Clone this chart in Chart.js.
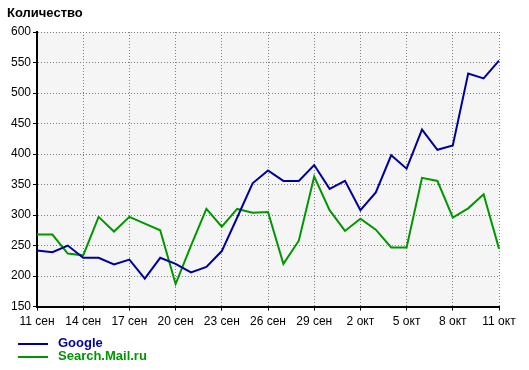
<!DOCTYPE html>
<html>
<head>
<meta charset="utf-8">
<script src="https://cdn.jsdelivr.net/npm/chart.js@4.4.1/dist/chart.umd.min.js"></script>
<style>
  html, body { margin: 0; padding: 0; background: #fff; }
  #wrap { position: relative; width: 529px; height: 370px; }
  #title { position: absolute; left: 7px; top: 5px; font: bold 13px "Liberation Sans", Arial, sans-serif; color: #000; }
  .leg { position: absolute; left: 18px; font: bold 13px "Liberation Sans", Arial, sans-serif; }
  .leg i { position: absolute; left: 0; width: 30px; height: 2px; }
  .leg span { position: absolute; left: 40px; top: -8px; white-space: nowrap; }
</style>
</head>
<body>
<div id="wrap">
  <canvas id="c" width="529" height="370"></canvas>
  <div id="title">Количество</div>
  <div class="leg" style="top:343px"><i style="background:#00009c"></i><span style="color:#00009c">Google</span></div>
  <div class="leg" style="top:356px"><i style="background:#009600"></i><span style="color:#009600">Search.Mail.ru</span></div>
</div>
<script>
// дни периода
var days = ['11 сен', '12 сен', '13 сен', '14 сен', '15 сен', '16 сен', '17 сен', '18 сен',
    '19 сен', '20 сен', '21 сен', '22 сен', '23 сен', '24 сен', '25 сен', '26 сен',
    '27 сен', '28 сен', '29 сен', '30 сен', '1 окт', '2 окт', '3 окт', '4 окт',
    '5 окт', '6 окт', '7 окт', '8 окт', '9 окт', '10 окт', '11 окт'];

var googleValues = [242, 239, 250, 230, 230, 219, 227, 196, 230, 220, 206, 215, 241, 296, 352,
    373, 356, 356, 382, 343, 356, 308, 337, 398, 376, 440, 407, 414, 532, 524, 553];

var mailValues = [268, 268, 237, 234, 297, 273, 297, 286, 275, 187, 250, 310, 281, 310, 304,
    305, 220, 258, 363, 308, 274, 294, 276, 247, 247, 361, 356, 296, 311, 334, 245];

var yMin = 150, yMax = 600, yStep = 50;

var FONT = { family: '"Liberation Sans", Arial, sans-serif', size: 12 };

// серый фон области графика
var plotBg = {
    id: 'plotBg',
    beforeDraw: function (chart) {
        var a = chart.chartArea, ctx = chart.ctx;
        ctx.save();
        ctx.fillStyle = '#f5f5f5';
        ctx.fillRect(a.left, a.top, a.right - a.left, a.bottom - a.top);
        ctx.restore();
    }
};

var every3 = function (c) { return c.index % 3 === 0; };

new Chart(document.getElementById('c'), {
    type: 'line',
    data: {
        labels: days,
        datasets: [
            { label: 'Google', data: googleValues, borderColor: '#00009c', borderWidth: 2 },
            { label: 'Search.Mail.ru', data: mailValues, borderColor: '#009600', borderWidth: 2 }
        ]
    },
    options: {
        responsive: false,
        animation: false,
        layout: { padding: { left: 0, right: 30, top: 32, bottom: 37 } },
        elements: { point: { radius: 0 }, line: { tension: 0, borderJoinStyle: 'miter' } },
        plugins: { legend: { display: false }, tooltip: { enabled: false }, title: { display: false } },
        scales: {
            x: {
                offset: false,
                grid: {
                    color: function (c) { return every3(c) ? '#808080' : 'transparent'; },
                    tickColor: function (c) { return every3(c) ? '#000' : 'transparent'; },
                    tickLength: 4,
                    tickBorderDash: [],
                    lineWidth: 1
                },
                border: { display: true, color: '#000', width: 2, dash: [1, 2] },
                ticks: {
                    autoSkip: false,
                    maxRotation: 0,
                    padding: 4,
                    color: '#000',
                    font: FONT,
                    callback: function (v, i) { return i % 3 === 0 ? days[i] : ''; }
                }
            },
            y: {
                min: yMin,
                max: yMax,
                afterFit: function (s) { s.width = 37; },
                grid: { color: '#808080', tickColor: '#000', tickLength: 4, tickBorderDash: [], lineWidth: 1 },
                border: { display: true, color: '#000', width: 2, dash: [1, 2] },
                ticks: { stepSize: yStep, padding: 2, color: '#000', font: FONT }
            }
        }
    },
    plugins: [plotBg]
});
</script>
</body>
</html>
